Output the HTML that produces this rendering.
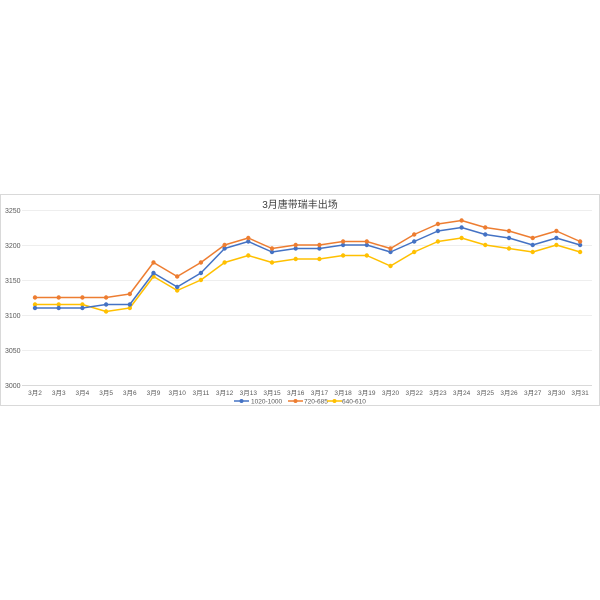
<!DOCTYPE html>
<html><head><meta charset="utf-8"><style>
html,body{margin:0;padding:0;background:#fff;width:600px;height:600px;overflow:hidden}
text{font-family:"Liberation Sans","Noto Sans CJK SC",sans-serif}
</style></head><body>
<svg width="600" height="600" xmlns="http://www.w3.org/2000/svg">
<defs>
<marker id="mb" markerWidth="6" markerHeight="6" refX="3" refY="3" markerUnits="userSpaceOnUse"><circle cx="3" cy="3" r="2.2" fill="#4472c4"/></marker>
<marker id="mo" markerWidth="6" markerHeight="6" refX="3" refY="3" markerUnits="userSpaceOnUse"><circle cx="3" cy="3" r="2.2" fill="#ed7d31"/></marker>
<marker id="my" markerWidth="6" markerHeight="6" refX="3" refY="3" markerUnits="userSpaceOnUse"><circle cx="3" cy="3" r="2.2" fill="#ffc000"/></marker>
</defs>
<rect x="0.5" y="194.5" width="599" height="211" fill="#fff" stroke="#d9d9d9"/>
<g stroke="#eeeeee" stroke-width="1">
<line x1="22" y1="210.5" x2="592" y2="210.5"/>
<line x1="22" y1="245.5" x2="592" y2="245.5"/>
<line x1="22" y1="280.5" x2="592" y2="280.5"/>
<line x1="22" y1="315.5" x2="592" y2="315.5"/>
<line x1="22" y1="350.5" x2="592" y2="350.5"/>
</g>
<line x1="22" y1="385.5" x2="592" y2="385.5" stroke="#d9d9d9"/>
<g font-size="7" fill="#595959">
<text x="5" y="213">3250</text><text x="5" y="248">3200</text><text x="5" y="283">3150</text>
<text x="5" y="318">3100</text><text x="5" y="353">3050</text><text x="5" y="388">3000</text>
</g>
<text x="300" y="208" font-size="10" fill="#404040" text-anchor="middle">3月唐带瑞丰出场</text>
<g font-size="6.5" fill="#595959" text-anchor="middle">
<text x="35" y="395">3月2</text><text x="58.7" y="395">3月3</text><text x="82.4" y="395">3月4</text><text x="106.1" y="395">3月5</text><text x="129.8" y="395">3月6</text><text x="153.5" y="395">3月9</text><text x="177.2" y="395">3月10</text><text x="200.9" y="395">3月11</text><text x="224.6" y="395">3月12</text><text x="248.3" y="395">3月13</text><text x="272" y="395">3月15</text><text x="295.7" y="395">3月16</text><text x="319.4" y="395">3月17</text><text x="343.1" y="395">3月18</text><text x="366.8" y="395">3月19</text><text x="390.5" y="395">3月20</text><text x="414.2" y="395">3月22</text><text x="437.9" y="395">3月23</text><text x="461.6" y="395">3月24</text><text x="485.3" y="395">3月25</text><text x="509" y="395">3月26</text><text x="532.7" y="395">3月27</text><text x="556.4" y="395">3月30</text><text x="580.1" y="395">3月31</text>
</g>
<g fill="none" stroke-width="1.5" stroke-linejoin="round">
<polyline stroke="#ffc000" marker-start="url(#my)" marker-mid="url(#my)" marker-end="url(#my)" points="35,304.5 58.7,304.5 82.4,304.5 106.1,311.5 129.8,308 153.5,276.5 177.2,290.5 200.9,280 224.6,262.5 248.3,255.5 272,262.5 295.7,259 319.4,259 343.1,255.5 366.8,255.5 390.5,266 414.2,252 437.9,241.5 461.6,238 485.3,245 509,248.5 532.7,252 556.4,245 580.1,252"/>
<polyline stroke="#4472c4" marker-start="url(#mb)" marker-mid="url(#mb)" marker-end="url(#mb)" points="35,308 58.7,308 82.4,308 106.1,304.5 129.8,304.5 153.5,273 177.2,287 200.9,273 224.6,248.5 248.3,241.5 272,252 295.7,248.5 319.4,248.5 343.1,245 366.8,245 390.5,252 414.2,241.5 437.9,231 461.6,227.5 485.3,234.5 509,238 532.7,245 556.4,238 580.1,245"/>
<polyline stroke="#ed7d31" marker-start="url(#mo)" marker-mid="url(#mo)" marker-end="url(#mo)" points="35,297.5 58.7,297.5 82.4,297.5 106.1,297.5 129.8,294 153.5,262.5 177.2,276.5 200.9,262.5 224.6,245 248.3,238 272,248.5 295.7,245 319.4,245 343.1,241.5 366.8,241.5 390.5,248.5 414.2,234.5 437.9,224 461.6,220.5 485.3,227.5 509,231 532.7,238 556.4,231 580.1,241.5"/>
</g>
<g font-size="6.5" fill="#595959">
<line x1="234" y1="401" x2="249" y2="401" stroke="#4472c4" stroke-width="1.5"/><circle cx="241.5" cy="401" r="2" fill="#4472c4"/>
<text x="251" y="403.5">1020-1000</text>
<line x1="288" y1="401" x2="303" y2="401" stroke="#ed7d31" stroke-width="1.5"/><circle cx="295.5" cy="401" r="2" fill="#ed7d31"/>
<text x="304" y="403.5">720-685</text>
<line x1="327" y1="401" x2="342" y2="401" stroke="#ffc000" stroke-width="1.5"/><circle cx="334.5" cy="401" r="2" fill="#ffc000"/>
<text x="342" y="403.5">640-610</text>
</g>
</svg>
</body></html>
